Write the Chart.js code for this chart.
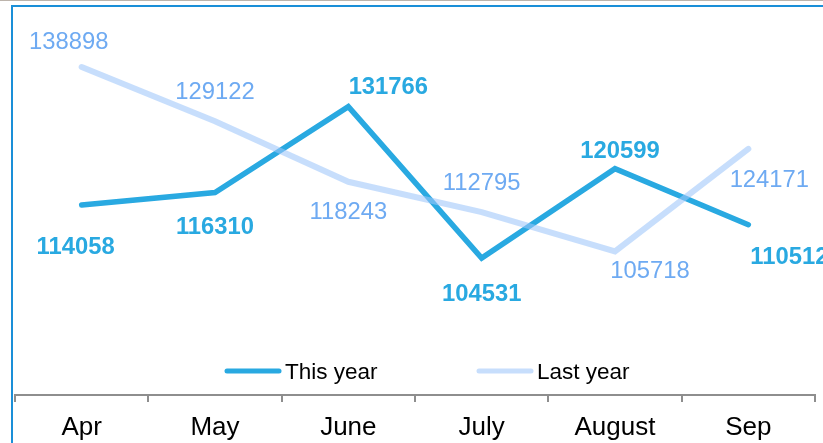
<!DOCTYPE html>
<html>
<head>
<meta charset="utf-8">
<script src="https://cdn.jsdelivr.net/npm/chart.js@4.4.1/dist/chart.umd.min.js"></script>
<style>
  html, body { margin: 0; padding: 0; background: #ffffff; overflow: hidden; }
  #c { display: block; }
</style>
</head>
<body>
<canvas id="c" width="823" height="443"></canvas>
<script>
// ---- data ----
const categories = ["Apr", "May", "June", "July", "August", "Sep"];
const thisYear = [114058, 116310, 131766, 104531, 120599, 110512];
const lastYear = [138898, 129122, 118243, 112795, 105718, 124171];
const seriesNames = ["This year", "Last year"];

const FONT = "'Liberation Sans', Arial, sans-serif";

// label offsets (styling: where each value label sits relative to its point)
const labelOffsets = [
  [[-6, 40], [0, 33], [40, -21], [0, 34], [5, -19], [41, 31]],
  [[-13, -26.5], [0, -31], [0, 29], [0, -31], [35, 18], [21, 30]]
];

const framePlugin = {
  id: 'frame',
  beforeDraw(chart) {
    const ctx = chart.ctx;
    ctx.save();
    ctx.fillStyle = '#ffffff';
    ctx.fillRect(0, 0, chart.width, chart.height);
    ctx.fillStyle = '#bcb4ac';
    ctx.fillRect(0, 0, chart.width, 1);
    ctx.fillStyle = '#1a8fd8';
    ctx.fillRect(11, 5, chart.width, 2);
    ctx.fillRect(11, 5, 2, chart.height);
    ctx.restore();
  }
};

const valueLabelPlugin = {
  id: 'valueLabels',
  afterDatasetsDraw(chart, args, opts) {
    const ctx = chart.ctx;
    ctx.save();
    ctx.textAlign = 'center';
    ctx.textBaseline = 'alphabetic';
    chart.data.datasets.forEach((ds, di) => {
      const meta = chart.getDatasetMeta(di);
      const st = opts.styles[di];
      ctx.font = st.font;
      ctx.fillStyle = st.color;
      meta.data.forEach((pt, i) => {
        const off = opts.offsets[di][i];
        const x = pt.x + off[0];
        const y = pt.y + off[1] + st.capHalf;
        ctx.fillText(String(ds.data[i]), x, y);
      });
    });
    ctx.restore();
  }
};

const innerLegendPlugin = {
  id: 'innerLegend',
  afterDraw(chart, args, opts) {
    const ctx = chart.ctx;
    ctx.save();
    ctx.font = opts.font;
    ctx.textBaseline = 'alphabetic';
    ctx.textAlign = 'left';
    chart.data.datasets.forEach((ds, di) => {
      const x0 = opts.starts[di];
      ctx.strokeStyle = ds.borderColor;
      ctx.lineWidth = 5;
      ctx.lineCap = 'round';
      ctx.beginPath();
      ctx.moveTo(x0 + 2, opts.y);
      ctx.lineTo(x0 + opts.lineLen - 2, opts.y);
      ctx.stroke();
      ctx.fillStyle = '#000000';
      ctx.fillText(ds.label, x0 + opts.lineLen + 4, opts.y + 8);
    });
    ctx.restore();
  }
};

new Chart(document.getElementById('c'), {
  type: 'line',
  data: {
    labels: categories,
    datasets: [
      {
        label: seriesNames[0],
        data: thisYear,
        borderColor: '#29a9e1',
        borderWidth: 5.5,
        borderCapStyle: 'round',
        borderJoinStyle: 'miter',
        pointRadius: 0,
        tension: 0,
        fill: false,
        order: 2
      },
      {
        label: seriesNames[1],
        data: lastYear,
        borderColor: 'rgba(158,199,250,0.58)',
        borderWidth: 6,
        borderCapStyle: 'round',
        borderJoinStyle: 'miter',
        pointRadius: 0,
        tension: 0,
        fill: false,
        order: 1
      }
    ]
  },
  options: {
    responsive: false,
    devicePixelRatio: 1,
    animation: false,
    events: [],
    layout: { padding: { left: 15, right: 8, top: 20, bottom: 0 } },
    plugins: {
      legend: { display: false },
      tooltip: { enabled: false },
      valueLabels: {
        offsets: labelOffsets,
        styles: [
          { font: "bold 23.8px " + FONT, color: '#29a9e1', capHalf: 8.5 },
          { font: "23.8px " + FONT, color: '#6eaaf2', capHalf: 8.5 }
        ]
      },
      innerLegend: {
        font: "22.5px " + FONT,
        starts: [225, 477],
        lineLen: 56,
        y: 371
      }
    },
    scales: {
      x: {
        offset: true,
        afterFit(scale) { scale.height = 48; },
        grid: {
          offset: true,
          drawOnChartArea: false,
          drawTicks: true,
          tickLength: 7,
          color: '#8e8e8e',
          lineWidth: 2
        },
        border: { display: true, color: '#8e8e8e', width: 2 },
        ticks: {
          color: '#000000',
          font: { family: FONT, size: 26 },
          padding: 10,
          maxRotation: 0,
          autoSkip: false
        }
      },
      y: {
        display: false,
        min: 79884,
        max: 147354
      }
    }
  },
  plugins: [framePlugin, valueLabelPlugin, innerLegendPlugin]
});
</script>
</body>
</html>
